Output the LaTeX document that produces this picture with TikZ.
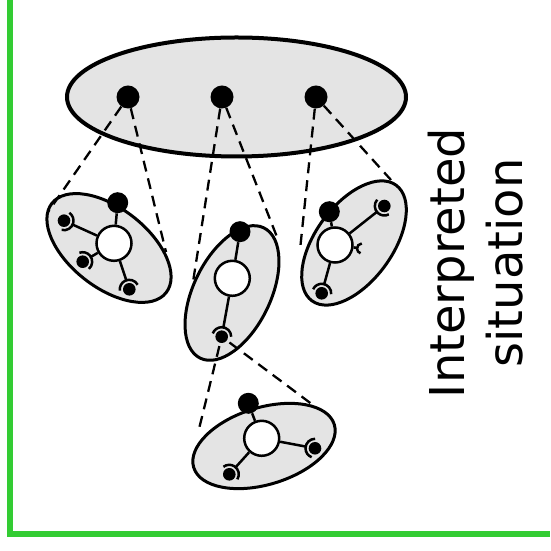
\documentclass[tikz,border=0pt]{standalone}
\usepackage{fontspec}
\newfontfamily\labelfont{DejaVu Sans}
\usetikzlibrary{shapes.geometric,calc}
\definecolor{framegreen}{RGB}{51,204,51}
\definecolor{cellgray}{RGB}{228,228,228}
\tikzset{
  frameline/.style={draw=framegreen, line width=5.7, line join=miter},
  outerell/.style={ellipse, draw, fill=cellgray, line width=4, inner sep=0},
  cellell/.style={ellipse, draw, fill=cellgray, line width=3, inner sep=0},
  bigdot/.style={circle, fill=black, minimum size=23, inner sep=0},
  topdot/.style={circle, fill=black, minimum size=21, inner sep=0},
  hub/.style={circle, draw, fill=white, line width=2.5, minimum size=35, inner sep=0},
  sock/.style={circle, minimum size=19, inner sep=0,
    path picture={\fill (path picture bounding box.center) circle (6.3);}},
  emptysock/.style={circle, minimum size=10, inner sep=0},
  link/.style={line width=2.5},
  proj/.style={line width=2.3, dash pattern=on 11pt off 7pt},
}
% cup-shaped socket arc around node #3, opened away from node #2
\newcommand\socketarc[3][9.5]{%
  \draw[link] let \p1=($(#2)-(#3)$), \n1={atan2(\y1,\x1)} in
    ($(#3)+(\n1-80:#1)$) arc[start angle=\n1-80, end angle=\n1+80, radius=#1];}
\begin{document}
\begin{tikzpicture}[x=1pt,y=1pt]
\useasboundingbox (0,0) rectangle (550,551);

% frame
\coordinate (ftop) at (9.8,551);
\coordinate (fcorner) at (9.8,17);
\coordinate (fend) at (550,17);
\draw[frameline] (ftop) -- (fcorner) -- (fend);

% outer situation
\node[outerell, minimum width=339, minimum height=119] (world) at (236.5,454) {};

% component cells
\node[cellell, minimum width=145, minimum height=79, rotate=-38] (cellL) at (109,303) {};
\node[cellell, minimum width=145, minimum height=77, rotate=64] (cellM) at (232,258) {};
\node[cellell, minimum width=143, minimum height=77, rotate=54] (cellR) at (354,308) {};
\node[cellell, minimum width=147, minimum height=77, rotate=17] (cellB) at (264,105) {};

% dots of the outer situation
\node[bigdot] (w1) at (128,454) {};
\node[bigdot] (w2) at (222,454) {};
\node[bigdot] (w3) at (316,454) {};

% left cell
\node[hub] (hL) at (114,307.7) {};
\node[topdot] (tL) at (117.7,348.3) {};
\node[sock] (sL1) at (64,330.3) {};
\node[sock] (sL2) at (82.7,289.3) {};
\node[sock] (sL3) at (129.3,261.7) {};

% middle cell
\node[hub] (hM) at (232.3,272.7) {};
\node[topdot] (tM) at (240,319.3) {};
\node[sock] (sM) at (221.7,214.3) {};

% right cell
\node[hub] (hR) at (335,306) {};
\node[topdot] (tR) at (329.3,339.3) {};
\node[sock] (sR1) at (384.3,345) {};
\node[sock] (sR2) at (321.7,257.7) {};
\node[emptysock] (eR) at (362,302.5) {};

% bottom cell
\node[hub] (hB) at (261.7,112.7) {};
\node[topdot] (tB) at (248.3,147.7) {};
\node[sock] (sB1) at (315,102.7) {};
\node[sock] (sB2) at (229.3,76.7) {};

% links inside the cells
\draw[link] (hL) -- (tL);
\draw[link] (hL) -- (sL1); \socketarc{hL}{sL1}
\draw[link] (hL) -- (sL2); \socketarc{hL}{sL2}
\draw[link] (hL) -- (sL3); \socketarc{hL}{sL3}

\draw[link] (hM) -- (tM);
\draw[link] (hM) -- (sM); \socketarc{hM}{sM}

\draw[link] (hR) -- (tR);
\draw[link] (hR) -- (sR1); \socketarc{hR}{sR1}
\draw[link] (hR) -- (sR2); \socketarc{hR}{sR2}
\draw[link] (hR) -- (eR); \socketarc[5]{hR}{eR}

\draw[link] (hB) -- (tB);
\draw[link] (hB) -- (sB1); \socketarc{hB}{sB1}
\draw[link] (hB) -- (sB2); \socketarc{hB}{sB2}

% projection lines
\coordinate (pL1) at (48,339);
\coordinate (pL2) at (166,299);
\coordinate (pM1) at (193,269);
\coordinate (pM2) at (277,314);
\coordinate (pR1) at (300,301);
\coordinate (pR2) at (391,371);
\coordinate (pB1) at (198,118);
\coordinate (pB2) at (313,146);
\draw[proj] (w1) -- (pL1);
\draw[proj] (w1) -- (pL2);
\draw[proj] (w2) -- (pM1);
\draw[proj] (w2) -- (pM2);
\draw[proj] (w3) -- (pR1);
\draw[proj] (w3) -- (pR2);
\draw[proj] (sM) -- (pB1);
\draw[proj] (sM) -- (pB2);

% caption
\node[rotate=90, align=center, inner sep=0,
      font=\labelfont\fontsize{48}{58}\selectfont] (caption) at (476,288)
  {Interpreted\\situation};
\end{tikzpicture}
\end{document}
